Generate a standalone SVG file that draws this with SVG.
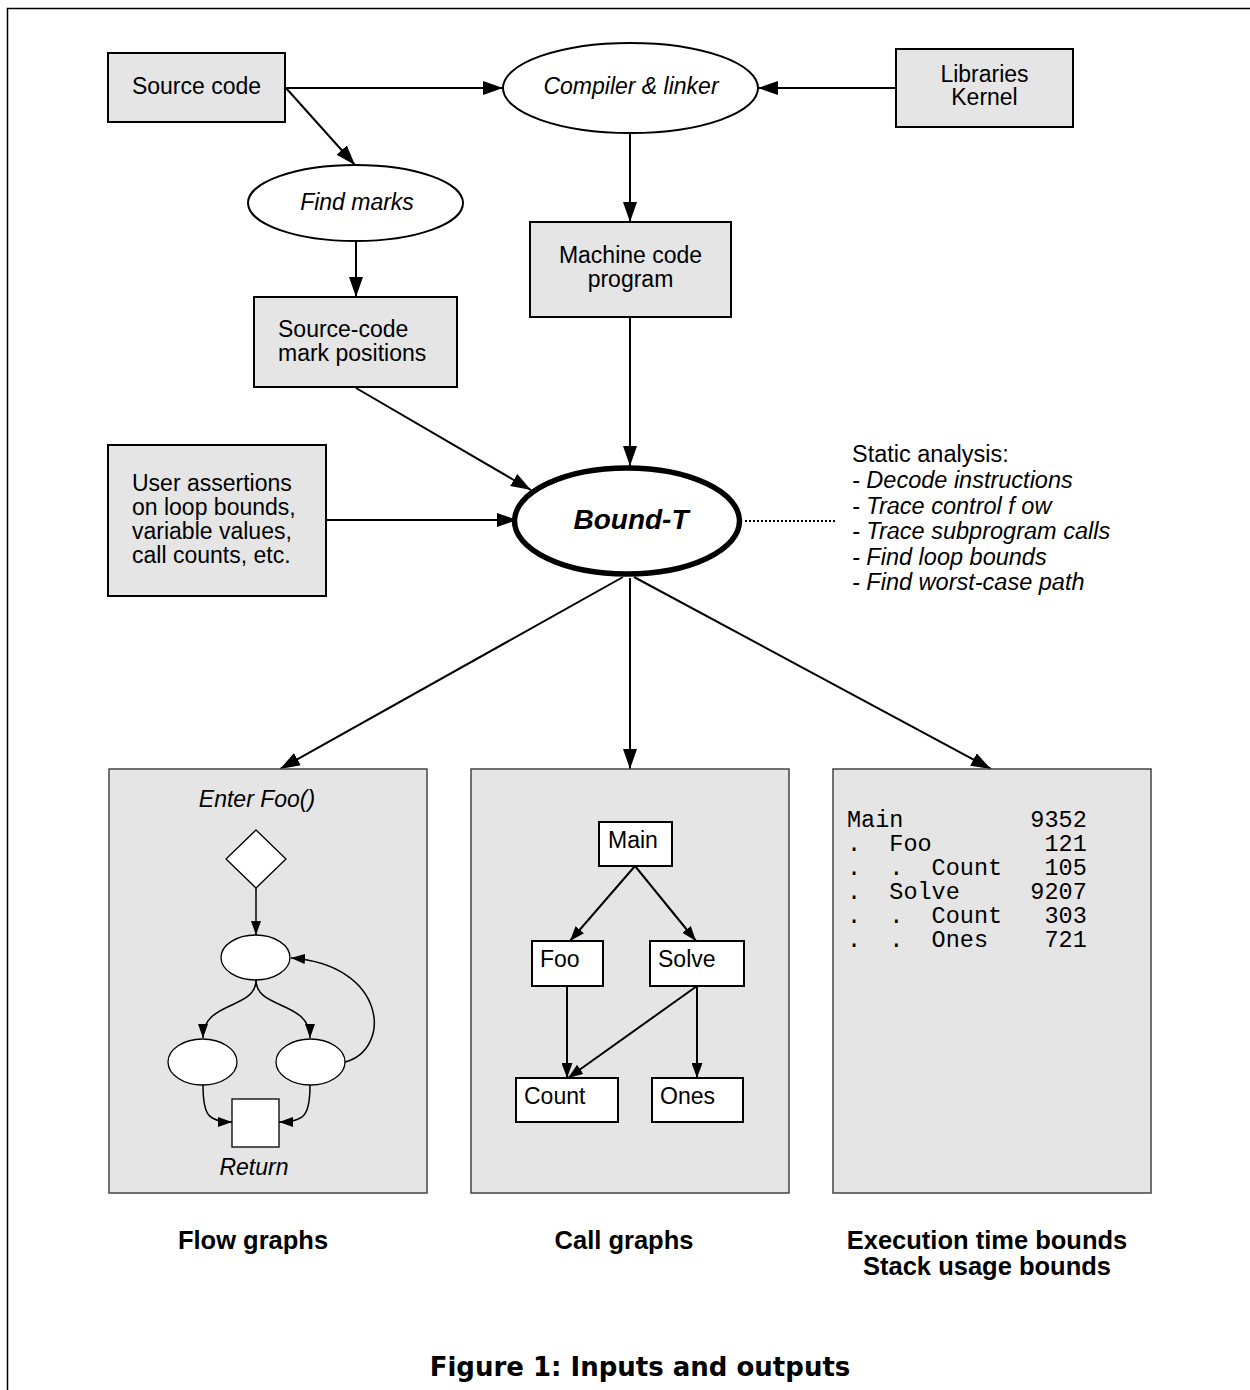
<svg xmlns="http://www.w3.org/2000/svg" width="1250" height="1390" viewBox="0 0 1250 1390">
<defs>
<style>
text{font-family:"Liberation Sans",Arial,sans-serif;font-size:23px;fill:#000}
.it{font-style:italic}
.c{text-anchor:middle}
.box{fill:#e5e5e5;stroke:#000;stroke-width:2}
.ell{fill:#fff;stroke:#000;stroke-width:2}
.panel{fill:#e5e5e5;stroke:#444;stroke-width:1.5}
.wb{fill:#fff;stroke:#000;stroke-width:2}
.wf{fill:#fff;stroke:#000;stroke-width:1.3}
.con{fill:none;stroke:#000;stroke-width:2}
.fcon{fill:none;stroke:#000;stroke-width:1.5}
.lbl{font-weight:bold;font-size:25.5px;text-anchor:middle}
.mono{font-family:"Liberation Mono","Courier New",monospace;font-size:23.5px;white-space:pre}
</style>
<marker id="ah" markerUnits="userSpaceOnUse" markerWidth="20" markerHeight="14" refX="20" refY="7" orient="auto"><path d="M0,0 L20,7 L0,14 z" fill="#000"/></marker>
<marker id="am" markerUnits="userSpaceOnUse" markerWidth="15" markerHeight="11" refX="15" refY="5.5" orient="auto"><path d="M0,0 L15,5.5 L0,11 z" fill="#000"/></marker>
<marker id="as" markerUnits="userSpaceOnUse" markerWidth="14" markerHeight="10" refX="14" refY="5" orient="auto"><path d="M0,0 L14,5 L0,10 z" fill="#000"/></marker>
</defs>
<rect width="1250" height="1390" fill="#fff"/>
<path d="M7.5,1390 V8.5 H1250" fill="none" stroke="#000" stroke-width="1.5"/>

<g id="connectors">
<path class="con" d="M285,88 H503" marker-end="url(#ah)"/>
<path class="con" d="M896,88 H758" marker-end="url(#ah)"/>
<path class="con" d="M286,88 L355,165" marker-end="url(#ah)"/>
<path class="con" d="M630,133 V222" marker-end="url(#ah)"/>
<path class="con" d="M356,241 V297" marker-end="url(#ah)"/>
<path class="con" d="M630,317 V466" marker-end="url(#ah)"/>
<path class="con" d="M356,388 L531,490" marker-end="url(#ah)"/>
<path class="con" d="M326,520 H517" marker-end="url(#ah)"/>
<path d="M745,521 H835" fill="none" stroke="#000" stroke-width="2" stroke-dasharray="2,2"/>
<path class="con" d="M623,577 L280,769" marker-end="url(#ah)"/>
<path class="con" d="M630,578 V769" marker-end="url(#ah)"/>
<path class="con" d="M634,577 L991,769" marker-end="url(#ah)"/>
</g>

<g id="source-code">
<rect class="box" x="108" y="53" width="177" height="69"/>
<text class="c" x="196.5" y="94">Source code</text>
</g>
<g id="compiler">
<ellipse class="ell" cx="630.5" cy="88" rx="127.5" ry="45"/>
<text class="c it" x="631" y="94">Compiler &amp; linker</text>
</g>
<g id="libraries">
<rect class="box" x="896" y="49" width="177" height="78"/>
<text class="c" x="984.5" y="82">Libraries</text>
<text class="c" x="984.5" y="105">Kernel</text>
</g>
<g id="find-marks">
<ellipse class="ell" cx="355.5" cy="203" rx="107.5" ry="38"/>
<text class="c it" x="357" y="210">Find marks</text>
</g>
<g id="machine-code">
<rect class="box" x="530" y="222" width="201" height="95"/>
<text class="c" x="630.5" y="263">Machine code</text>
<text class="c" x="630.5" y="287">program</text>
</g>
<g id="mark-positions">
<rect class="box" x="254" y="297" width="203" height="90"/>
<text x="278" y="337">Source-code</text>
<text x="278" y="361">mark positions</text>
</g>
<g id="user-assertions">
<rect class="box" x="108" y="445" width="218" height="151"/>
<text x="132" y="491">User assertions</text>
<text x="132" y="515">on loop bounds,</text>
<text x="132" y="539">variable values,</text>
<text x="132" y="563">call counts, etc.</text>
</g>
<g id="bound-t">
<ellipse cx="627" cy="521" rx="112.5" ry="53" fill="#fff" stroke="#000" stroke-width="5.5"/>
<text class="c it" x="631" y="529" style="font-weight:bold;font-size:28px">Bound-T</text>
</g>
<g id="static-analysis">
<text x="852" y="462" style="font-size:23.5px">Static analysis:</text>
<text class="it" x="852" y="488" style="font-size:23.5px">- Decode instructions</text>
<text class="it" x="852" y="514" style="font-size:23.5px">- Trace control f ow</text>
<text class="it" x="852" y="539" style="font-size:23.5px">- Trace subprogram calls</text>
<text class="it" x="852" y="565" style="font-size:23.5px">- Find loop bounds</text>
<text class="it" x="852" y="590" style="font-size:23.5px">- Find worst-case path</text>
</g>

<g id="flow-graphs">
<rect class="panel" x="109" y="769" width="318" height="424"/>
<text class="c it" x="257" y="807">Enter Foo()</text>
<polygon class="wf" points="256,830 286,859 256,888 226,859"/>
<ellipse class="wf" cx="255.5" cy="957.5" rx="34.5" ry="22.5"/>
<ellipse class="wf" cx="202.5" cy="1062" rx="34.5" ry="23"/>
<ellipse class="wf" cx="310.5" cy="1062" rx="34.5" ry="23"/>
<rect class="wf" x="232" y="1099" width="47" height="48"/>
<text class="c it" x="254" y="1175">Return</text>
<path class="fcon" d="M256,888 V935" marker-end="url(#as)"/>
<path class="fcon" d="M256,980 C256,1010 203,1000 203,1038" marker-end="url(#as)"/>
<path class="fcon" d="M256,980 C256,1010 310,1000 310,1038" marker-end="url(#as)"/>
<path class="fcon" d="M345,1062 C392,1050 388,965 291,958" marker-end="url(#as)"/>
<path class="fcon" d="M203,1085 C203,1115 208,1122 232,1122" marker-end="url(#as)"/>
<path class="fcon" d="M310,1085 C310,1115 305,1122 279,1122" marker-end="url(#as)"/>
</g>

<g id="call-graphs">
<rect class="panel" x="471" y="769" width="318" height="424"/>
<path class="con" d="M635,866 L570,941" marker-end="url(#am)"/>
<path class="con" d="M635,866 L696,941" marker-end="url(#am)"/>
<path class="con" d="M567,986 V1078" marker-end="url(#am)"/>
<path class="con" d="M697,986 L568,1078" marker-end="url(#am)"/>
<path class="con" d="M697,986 V1078" marker-end="url(#am)"/>
<rect class="wb" x="599" y="822" width="73" height="44"/>
<text x="608" y="848">Main</text>
<rect class="wb" x="532" y="941" width="71" height="45"/>
<text x="540" y="967">Foo</text>
<rect class="wb" x="650" y="941" width="94" height="45"/>
<text x="658" y="967">Solve</text>
<rect class="wb" x="516" y="1078" width="102" height="44"/>
<text x="524" y="1104">Count</text>
<rect class="wb" x="652" y="1078" width="91" height="44"/>
<text x="660" y="1104">Ones</text>
</g>

<g id="bounds">
<rect class="panel" x="833" y="769" width="318" height="424"/>
<text class="mono" x="847" y="827" xml:space="preserve">Main         9352</text>
<text class="mono" x="847" y="851" xml:space="preserve">.  Foo        121</text>
<text class="mono" x="847" y="875" xml:space="preserve">.  .  Count   105</text>
<text class="mono" x="847" y="899" xml:space="preserve">.  Solve     9207</text>
<text class="mono" x="847" y="923" xml:space="preserve">.  .  Count   303</text>
<text class="mono" x="847" y="947" xml:space="preserve">.  .  Ones    721</text>
</g>

<g id="labels">
<text class="lbl" x="253" y="1249">Flow graphs</text>
<text class="lbl" x="624" y="1249">Call graphs</text>
<text class="lbl" x="987" y="1249">Execution time bounds</text>
<text class="lbl" x="987" y="1275">Stack usage bounds</text>
<text x="640" y="1376" style="font-family:'DejaVu Sans',sans-serif;font-weight:bold;font-size:26px;text-anchor:middle">Figure 1: Inputs and outputs</text>
</g>
</svg>
